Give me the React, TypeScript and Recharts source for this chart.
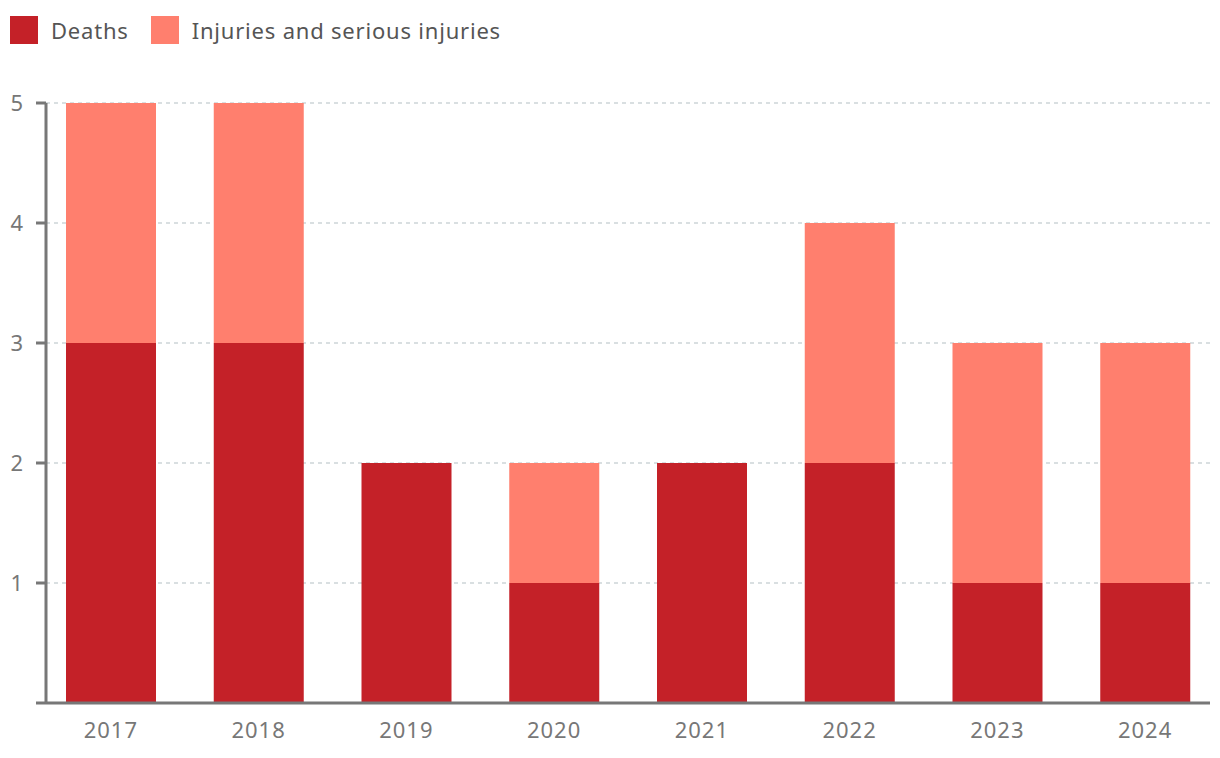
import React from 'react';
import { BarChart, Bar, XAxis, YAxis, CartesianGrid, Legend } from 'recharts';

const years = ['2017', '2018', '2019', '2020', '2021', '2022', '2023', '2024'];
const deaths = [3, 3, 2, 1, 2, 2, 1, 1];
const injuries = [2, 2, 0, 1, 0, 2, 2, 2];
const yTicks = [0, 1, 2, 3, 4, 5];

const seriesNames = ['Deaths', 'Injuries and serious injuries'];
const colors = ['#C42128', '#FF7F6E'];

const data = years.map((y, i) => ({ year: y, deaths: deaths[i], injuries: injuries[i] }));

const FONT = '"Noto Sans", "Open Sans", sans-serif';

const LegendContent = () => (
  <div style={{ display: 'flex', alignItems: 'center', paddingLeft: 10, paddingTop: 16, fontFamily: FONT }}>
    {seriesNames.map((n, i) => (
      <div key={n} style={{ display: 'flex', alignItems: 'center', marginRight: 22 }}>
        <div style={{ width: 28, height: 28, background: colors[i], marginRight: 13 }} />
        <span style={{ fontSize: 22, color: '#555', lineHeight: '28px', letterSpacing: 0.8 }}>{n}</span>
      </div>
    ))}
  </div>
);

export default function App() {
  return (
    <div style={{ position: 'absolute', left: 0, top: 0, width: 1220, height: 758, background: '#fff' }}>
      <BarChart
        width={1220}
        height={758}
        data={data}
        margin={{ top: 43, right: 10, bottom: 10, left: 10 }}
      >
        <Legend
          verticalAlign="top"
          align="left"
          content={<LegendContent />}
          wrapperStyle={{ top: 0, left: 0, height: 60, width: 1220 }}
        />
        <CartesianGrid
          vertical={false}
          stroke="#b4c0c4"
          strokeDasharray="4 4"
          strokeWidth={1.2}
          horizontalValues={[1, 2, 3, 4, 5]}
        />
        <XAxis
          dataKey="year"
          axisLine={{ stroke: '#777', strokeWidth: 3 }}
          tickLine={false}
          height={45}
          padding={{ left: -9, right: -9 }}
          tickMargin={13}
          tick={{ fill: '#777', fontSize: 22, fontFamily: FONT, letterSpacing: 1 }}
        />
        <YAxis
          width={36}
          domain={[0, 5]}
          ticks={yTicks}
          interval={0}
          axisLine={{ stroke: '#777', strokeWidth: 3 }}
          tickLine={{ stroke: '#777', strokeWidth: 3 }}
          tickSize={10}
          tickMargin={13}
          tickFormatter={(v: number) => (v === 0 ? '' : String(v))}
          tick={{ fill: '#777', fontSize: 22, fontFamily: FONT }}
        />
        <Bar dataKey="deaths" stackId="a" fill={colors[0]} barSize={90} isAnimationActive={false} />
        <Bar dataKey="injuries" stackId="a" fill={colors[1]} barSize={90} isAnimationActive={false} />
      </BarChart>
    </div>
  );
}
